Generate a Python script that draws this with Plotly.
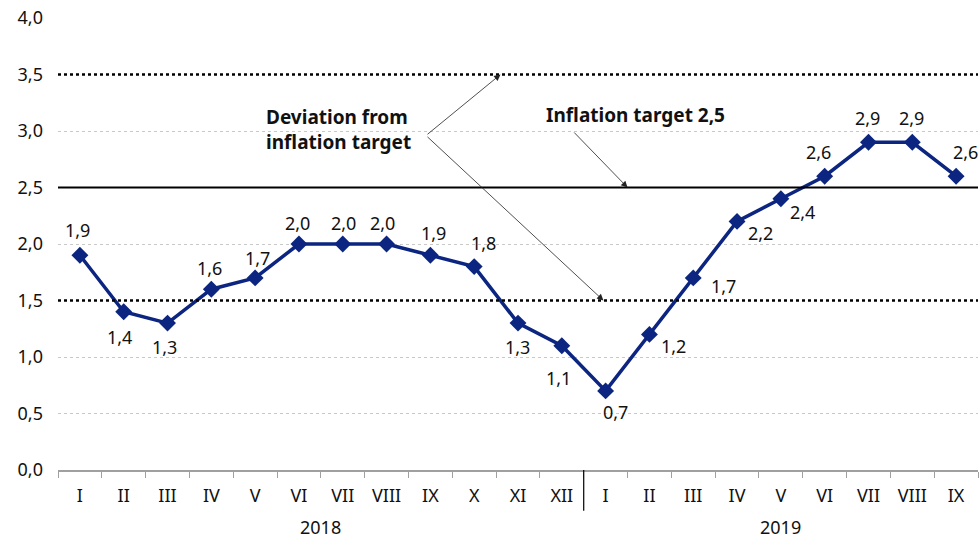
import plotly.graph_objects as go

months = ["I", "II", "III", "IV", "V", "VI", "VII", "VIII", "IX", "X", "XI", "XII",
          "I", "II", "III", "IV", "V", "VI", "VII", "VIII", "IX"]
years = ["2018", "2019"]
year_counts = [12, 9]
inflation = [1.9, 1.4, 1.3, 1.6, 1.7, 2.0, 2.0, 2.0, 1.9, 1.8, 1.3, 1.1,
             0.7, 1.2, 1.7, 2.2, 2.4, 2.6, 2.9, 2.9, 2.6]
target = 2.5
band = [1.5, 3.5]
y_ticks = [0.0, 0.5, 1.0, 1.5, 2.0, 2.5, 3.0, 3.5, 4.0]

# label offsets in pixels (style only)
label_shift = [(-2, -25), (-4, 25), (-3, 24), (-2, -21), (2, -20), (-1, -21), (1, -21),
               (-4, -21), (3, -22), (9, -24), (-1, 24), (-3, 32), (10, 21), (24, 12),
               (30, 8), (23, 12), (22, 13), (-6, -24), (-1, -24), (-1, -24), (9, -24)]

FONT = "Noto Sans, Open Sans, sans-serif"
NAVY = "#0b2580"
TXT = "#111111"
xs = list(range(len(months)))

fig = go.Figure()
fig.add_trace(go.Scatter(
    x=xs, y=inflation, mode="lines+markers",
    line=dict(color=NAVY, width=3.5),
    marker=dict(symbol="diamond", size=13, color=NAVY),
    hoverinfo="skip", showlegend=False, cliponaxis=False))

for i, (v, (dx, dy)) in enumerate(zip(inflation, label_shift)):
    fig.add_annotation(x=xs[i], y=v, text=f"{v:.1f}".replace(".", ","),
                       showarrow=False, xshift=dx, yshift=-dy,
                       font=dict(family=FONT, size=18, color=TXT))

# reference lines
for b in band:
    fig.add_shape(type="line", xref="paper", x0=0, x1=1, y0=b, y1=b, yref="y",
                  line=dict(color="black", width=2.5, dash="dot"))
fig.add_shape(type="line", xref="paper", x0=0, x1=1, y0=target, y1=target, yref="y",
              line=dict(color="black", width=2.2))

# year separator
n0 = year_counts[0]
fig.add_shape(type="line", xref="x", x0=n0 - 0.5, x1=n0 - 0.5, yref="paper", y0=0, y1=-0.09,
              line=dict(color="black", width=1.2))

# year labels
start = 0
for yname, cnt in zip(years, year_counts):
    fig.add_annotation(x=start + (cnt - 1) / 2, y=-0.125, xref="x", yref="paper",
                       text=yname, showarrow=False, yanchor="middle",
                       font=dict(family=FONT, size=18, color=TXT))
    start += cnt

# text annotations with arrows
fig.add_annotation(x=4.2, y=3.01, xref="x", yref="y", text="<b>Deviation from<br>inflation target</b>",
                   showarrow=False, xanchor="left", yanchor="middle", align="left",
                   font=dict(family=FONT, size=19, color=TXT))
fig.add_annotation(x=9.6, y=band[1], xref="x", yref="y", ax=7.9, ay=2.96, axref="x", ayref="y",
                   showarrow=True, arrowhead=2, arrowsize=1.6, arrowwidth=0.8, arrowcolor="#222222", text="")
fig.add_annotation(x=11.95, y=band[0], xref="x", yref="y", ax=7.9, ay=2.96, axref="x", ayref="y",
                   showarrow=True, arrowhead=2, arrowsize=1.6, arrowwidth=0.8, arrowcolor="#222222", text="")
fig.add_annotation(x=10.6, y=3.14, xref="x", yref="y", text="<b>Inflation target 2,5</b>",
                   showarrow=False, xanchor="left", yanchor="middle",
                   font=dict(family=FONT, size=19, color=TXT))
fig.add_annotation(x=12.5, y=target, xref="x", yref="y", ax=11.25, ay=3.0, axref="x", ayref="y",
                   showarrow=True, arrowhead=2, arrowsize=1.6, arrowwidth=0.8, arrowcolor="#222222", text="")

fig.update_layout(
    width=979, height=542,
    margin=dict(l=58, r=1, t=18, b=72),
    paper_bgcolor="white", plot_bgcolor="white",
    separators=", ",
    font=dict(family=FONT, size=18, color=TXT),
    xaxis=dict(range=[-0.5, len(months) - 0.5], tickmode="array", tickvals=xs, ticktext=months,
               tickfont=dict(family=FONT, size=18, color=TXT),
               ticks="", showgrid=False, zeroline=False, showline=True, linecolor="#a0a0a0",
               linewidth=1.5, ticklabelstandoff=9, automargin=False,
               minor=dict(tickmode="linear", tick0=-0.5, dtick=1, ticks="outside", ticklen=6,
                          tickcolor="#a0a0a0", showgrid=False)),
    yaxis=dict(range=[0, 4], tickmode="array", tickvals=y_ticks, tickformat=".1f",
               tickfont=dict(family=FONT, size=18, color=TXT),
               showgrid=True, gridcolor="#c8c8c8", griddash="dot", gridwidth=1,
               zeroline=False, showline=False, ticks="", ticklabelstandoff=14,
               automargin=False, ticklabeloverflow="allow"),
)

fig.write_html("out.html", config={"displayModeBar": False, "staticPlot": True},
               post_script="document.body.style.margin='0';document.body.style.overflow='hidden';"
                           "document.documentElement.style.overflow='hidden';")
